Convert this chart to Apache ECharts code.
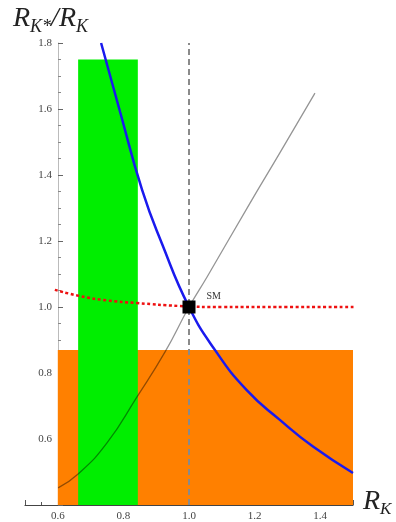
<!DOCTYPE html>
<html><head><meta charset="utf-8">
<script src="https://cdn.jsdelivr.net/npm/echarts@6/dist/echarts.min.js"></script>
<style>html,body{margin:0;padding:0;background:#fff}#c{width:396px;height:522px}</style>
</head><body><div id="c"></div>
<script>
// Data
const blueCurve = [[0.732,1.80],[0.79,1.591],[0.857,1.355],[0.918,1.191],[1.0,1.0],[1.079,0.870],[1.176,0.748],[1.277,0.658],[1.378,0.577],[1.5,0.497]];
const grayCurve = [[0.601,0.452],[0.662,0.494],[0.75,0.588],[0.841,0.727],[0.927,0.864],[1.0,1.0],[1.055,1.091],[1.186,1.315],[1.277,1.467],[1.384,1.648]];
const redCurve = [[0.591,1.052],[0.668,1.033],[0.75,1.02],[0.841,1.012],[0.973,1.003],[1.1,1.0],[1.3,1.0],[1.506,1.0]];
const smPoint = [[1.0,1.0]];
const smLabel = 'SM';
const vLine = [[1.0,0.4],[1.0,1.8]];
const orangeBox = {x0:0.6, x1:1.5, y0:0.4, y1:0.87};
const greenBox = {x0:0.662, x1:0.844, y0:0.4, y1:1.75};
const xTickLabels = ['0.6','0.8','1.0','1.2','1.4'];
const yTickLabels = ['0.6','0.8','1.0','1.2','1.4','1.6','1.8'];

const serif = '"Liberation Serif","DejaVu Serif",serif';
const chart = echarts.init(document.getElementById('c'));
function box(b){ return [[{coord:[b.x0,b.y0]},{coord:[b.x1,b.y1]}]]; }
chart.setOption({
  animation:false,
  grid:{left:25, top:43, width:328, height:462, containLabel:false},
  xAxis:{type:'value', min:0.5, max:1.5, interval:0.1,
    axisLine:{lineStyle:{color:'#444', width:1.2}},
    axisTick:{inside:true, length:5, lineStyle:{color:'#555'}},
    minorTick:{show:true, splitNumber:2, length:3, lineStyle:{color:'#555'}},
    splitLine:{show:false},
    axisLabel:{fontFamily:serif, fontSize:11, color:'#444', margin:6,
      formatter:function(v){ const s=v.toFixed(1); return xTickLabels.indexOf(s)>=0 ? s : ''; }}
  },
  yAxis:{type:'value', min:0.4, max:1.8, interval:0.2, offset:-33,
    axisLine:{show:true, lineStyle:{color:'#bbb', width:1}},
    axisTick:{show:true, inside:true, length:5, lineStyle:{color:'#666'}},
    minorTick:{show:true, splitNumber:4, length:3, lineStyle:{color:'#888'}},
    splitLine:{show:false},
    axisLabel:{fontFamily:serif, fontSize:11, color:'#444', margin:6,
      formatter:function(v){ const s=v.toFixed(1); return yTickLabels.indexOf(s)>=0 ? s : ''; }}
  },
  series:[
    {type:'line', data:[], z:1, silent:true,
      markArea:{silent:true, itemStyle:{color:'#FF8000', opacity:1}, data:box(orangeBox)}},
    {type:'line', data:[], z:2, silent:true,
      markArea:{silent:true, itemStyle:{color:'#00EE00', opacity:1}, data:box(greenBox)}},
    {type:'line', data:vLine, z:3, symbol:'none', lineStyle:{color:'#8a8a8a', width:2, type:[6,4]}},
    {type:'line', data:grayCurve, z:4, symbol:'none', smooth:true, lineStyle:{color:'rgba(0,0,0,0.42)', width:1.3}},
    {type:'line', data:redCurve, z:5, symbol:'none', smooth:true, lineStyle:{color:'#ee1111', width:2.5, type:[3,2.5]}},
    {type:'line', data:blueCurve, z:6, symbol:'none', smooth:true, lineStyle:{color:'#1a1aee', width:2.5}},
    {type:'scatter', data:smPoint, z:10, symbol:'rect', symbolSize:13, itemStyle:{color:'#000', opacity:1},
      label:{show:true, position:'right', offset:[6,-11], formatter:smLabel, fontFamily:serif, fontSize:10, color:'#333'}}
  ],
  graphic:[
    {type:'text', left:13, top:5, style:{
      text:'{a|R}{s|K*}{a|/R}{s|K}',
      rich:{a:{fontFamily:serif, fontStyle:'italic', fontSize:28, fill:'#222'},
            s:{fontFamily:serif, fontStyle:'italic', fontSize:18, fill:'#222', padding:[16,0,0,0]}}}},
    {type:'text', left:363, top:488, style:{
      text:'{a|R}{s|K}',
      rich:{a:{fontFamily:serif, fontStyle:'italic', fontSize:28, fill:'#222'},
            s:{fontFamily:serif, fontStyle:'italic', fontSize:17, fill:'#222', padding:[16,0,0,0]}}}}
  ]
});
</script></body></html>
